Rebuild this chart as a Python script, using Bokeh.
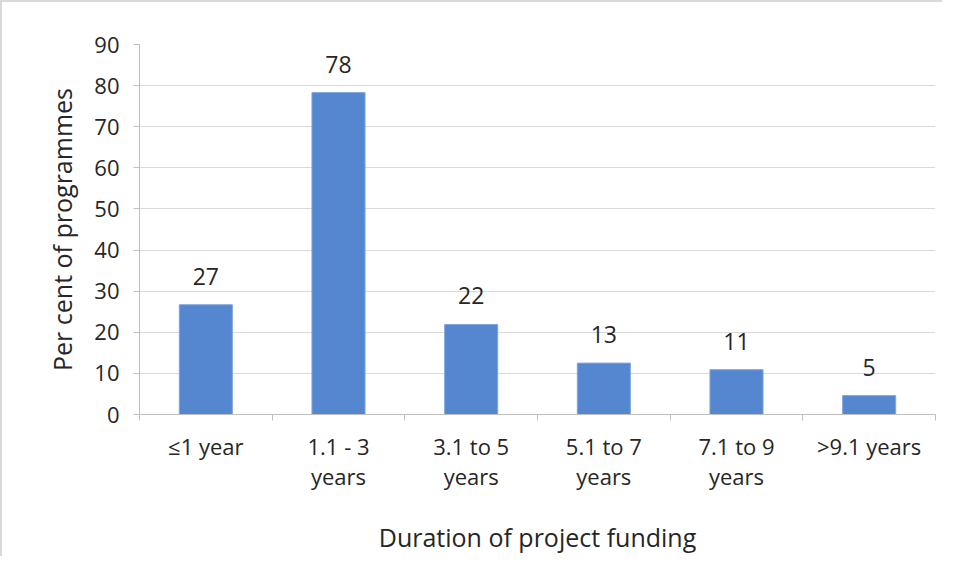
from bokeh.plotting import figure
from bokeh.models import FixedTicker, LinearAxis, Range1d, ColumnDataSource
from bokeh.core.properties import value
from bokeh.embed import file_html
from bokeh.resources import INLINE

categories = ["≤1 year", "1.1 - 3\nyears", "3.1 to 5\nyears", "5.1 to 7\nyears", "7.1 to 9\nyears", ">9.1 years"]
values = [26.7, 78.3, 21.9, 12.5, 10.9, 4.6]
labels = ["27", "78", "22", "13", "11", "5"]
y_ticks = [0, 10, 20, 30, 40, 50, 60, 70, 80, 90]

FONT = "Open Sans"
TXT = "#262626"

xs = [i + 0.5 for i in range(len(categories))]
src = ColumnDataSource(dict(x=xs, top=values, lab=labels))

p = figure(width=940, height=554, output_backend="svg", toolbar_location=None,
           x_range=Range1d(0, len(categories)), y_range=Range1d(0, 90),
           frame_width=796, frame_height=370)
p.min_border_left = 137
p.min_border_right = 7
p.min_border_top = 42
p.min_border_bottom = 142
p.outline_line_color = None
p.background_fill_color = "white"
p.border_fill_color = "white"
p.styles = {"border-top": "2px solid #d9d9d9", "border-left": "2px solid #d9d9d9", "box-sizing": "border-box"}

p.vbar(x="x", top="top", width=0.4, source=src, fill_color="#5587d0", line_color="#7fa6de", line_width=1)
p.text(x="x", y="top", text="lab", source=src, text_align="center", text_baseline="bottom",
       y_offset=-20, text_font=value(FONT), text_font_size="23px", text_color=TXT)

# y axis
p.yaxis.ticker = FixedTicker(ticks=y_ticks)
p.yaxis.axis_label = "Per cent of programmes"
p.yaxis.axis_label_text_font = FONT
p.yaxis.axis_label_text_font_size = "25px"
p.yaxis.axis_label_text_font_style = "normal"
p.yaxis.axis_label_text_color = TXT
p.yaxis.axis_label_standoff = 12
p.yaxis.major_label_text_font = FONT
p.yaxis.major_label_text_font_size = "22px"
p.yaxis.major_label_text_color = TXT
p.yaxis.axis_line_color = "#bfbfbf"
p.yaxis.major_tick_line_color = "#bfbfbf"
p.yaxis.major_tick_out = 6
p.yaxis.major_tick_in = 0
p.yaxis.minor_tick_line_color = None
p.yaxis.major_label_standoff = 14

p.ygrid.ticker = FixedTicker(ticks=y_ticks)
p.ygrid.grid_line_color = "#d9d9d9"
p.ygrid.grid_line_width = 1
p.xgrid.grid_line_color = None

# x axis: boundary ticks
p.xaxis.ticker = FixedTicker(ticks=list(range(len(categories) + 1)))
p.xaxis.major_label_overrides = {i: "" for i in range(len(categories) + 1)}
p.xaxis.major_label_text_font_size = "1px"
p.xaxis.major_label_standoff = 0
p.xaxis.axis_line_color = "#bfbfbf"
p.xaxis.major_tick_line_color = "#bfbfbf"
p.xaxis.major_tick_out = 6
p.xaxis.major_tick_in = 0
p.xaxis.minor_tick_line_color = None

# x axis: category labels
lab_axis = LinearAxis(ticker=FixedTicker(ticks=xs),
                      major_label_overrides={x: c for x, c in zip(xs, categories)})
lab_axis.axis_line_color = None
lab_axis.major_tick_line_color = None
lab_axis.minor_tick_line_color = None
lab_axis.major_label_text_font = FONT
lab_axis.major_label_text_font_size = "22px"
lab_axis.major_label_text_color = TXT
lab_axis.major_label_text_line_height = 1.0
lab_axis.major_label_standoff = 4
lab_axis.axis_label = "Duration of project funding"
lab_axis.axis_label_text_font = FONT
lab_axis.axis_label_text_font_size = "25px"
lab_axis.axis_label_text_font_style = "normal"
lab_axis.axis_label_text_color = TXT
lab_axis.axis_label_standoff = 26
p.add_layout(lab_axis, "below")

open("out.html", "w").write(file_html(p, INLINE))
